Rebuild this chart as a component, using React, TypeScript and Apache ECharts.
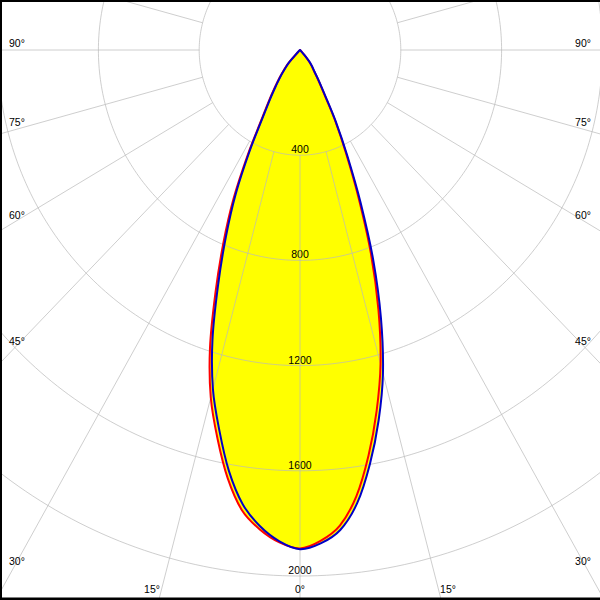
import React, { useEffect, useRef } from "react";
import * as echarts from "echarts";

// Photometric angles (degrees from nadir) and luminous intensities (cd)
const angles = [0, 2.5, 5, 7.5, 10, 12.5, 15, 17.5, 20, 22.5, 25, 27.5, 30, 32.5, 35, 37.5, 40, 42.5, 45, 47.5, 50, 60, 70, 80, 90];
// C0 – C180 plane (red)
const c0Right = [1895, 1868, 1815, 1712, 1566, 1405, 1235, 1035, 822, 606, 430, 300, 190, 134, 95, 75, 52, 20, 3, 0, 0, 0, 0, 0, 0];
const c180Left = [1895, 1874, 1830, 1765, 1653, 1513, 1368, 1188, 980, 795, 625, 448, 305, 230, 175, 135, 100, 70, 12, 0, 0, 0, 0, 0, 0];
// C90 – C270 plane (blue)
const c90Right = [1898, 1878, 1832, 1738, 1598, 1442, 1272, 1068, 850, 628, 445, 310, 198, 140, 100, 80, 58, 25, 5, 0, 0, 0, 0, 0, 0];
const c270Left = [1898, 1870, 1818, 1742, 1625, 1480, 1335, 1155, 950, 768, 603, 432, 294, 221, 167, 129, 94, 64, 8, 0, 0, 0, 0, 0, 0];

const intensityTicks = [400, 800, 1200, 1600, 2000];
const gridCircles = [400, 800, 1200, 1600, 2000, 2400, 2800];
const radialAngles = [0, 15, 30, 45, 60, 75, 90, 105, 120, 135, 150, 165, 180, 195, 210, 225, 240, 255, 270, 285, 300, 315, 330, 345];
const sideAngleLabels = ["90°", "75°", "60°", "45°", "30°"];
const bottomAngleLabels = ["15°", "0°", "15°"];

// layout
const W = 600;
const H = 600;
const CX = 300;
const CY = 50;
const PXX = 0.252; // px per cd horizontally
const PXY = 0.263; // px per cd vertically
const sideLabelY = [43, 122, 215, 341, 561];
const bottomLabelX = [152, 300, 448];
const bottomLabelY = 589;

const FONT = '10.5px "Liberation Sans", Arial, sans-serif';
const GRID_COLOR = "rgba(185,185,185,0.7)";
const SMOOTH = 0.35;

const rad = (d: number) => (d * Math.PI) / 180;
const pt = (deg: number, I: number, side: number) => [side * I * Math.sin(rad(deg)), -I * Math.cos(rad(deg))];

function planePoints(left: number[], right: number[]) {
  const pts: number[][] = [[0, 0]];
  for (let i = angles.length - 1; i >= 0; i--) if (left[i] > 0) pts.push(pt(angles[i], left[i], -1));
  for (let i = 1; i < angles.length; i++) if (right[i] > 0) pts.push(pt(angles[i], right[i], 1));
  return pts;
}

const planes = [
  { name: "C0-C180", pts: planePoints(c180Left, c0Right), color: "#ff0000" },
  { name: "C90-C270", pts: planePoints(c270Left, c90Right), color: "#0000c8" },
];

export default function App() {
  const ref = useRef<HTMLDivElement>(null);
  useEffect(() => {
    if (!ref.current) return;
    const chart = echarts.init(ref.current, undefined, { renderer: "svg" });
    const graphic: any[] = [];
    sideAngleLabels.forEach((t, i) => {
      graphic.push({ type: "text", x: 9, y: sideLabelY[i], z: 50, style: { text: t, font: FONT, fill: "#000", align: "left", verticalAlign: "middle" } });
      graphic.push({ type: "text", x: 591, y: sideLabelY[i], z: 50, style: { text: t, font: FONT, fill: "#000", align: "right", verticalAlign: "middle" } });
    });
    bottomAngleLabels.forEach((t, i) => {
      graphic.push({ type: "text", x: bottomLabelX[i], y: bottomLabelY, z: 50, style: { text: t, font: FONT, fill: "#000", align: "center", verticalAlign: "middle" } });
    });
    graphic.push({ type: "rect", z: 100, shape: { x: 0, y: 0, width: W, height: 2 }, style: { fill: "#000" } });
    graphic.push({ type: "rect", z: 100, shape: { x: 0, y: 0, width: 2, height: H }, style: { fill: "#000" } });
    graphic.push({ type: "rect", z: 100, shape: { x: 0, y: H - 2.5, width: W, height: 2.5 }, style: { fill: "#000" } });

    chart.setOption({
      animation: false,
      backgroundColor: "#ffffff",
      grid: { left: 0, right: 0, top: 0, bottom: 0 },
      xAxis: { type: "value", min: -CX / PXX, max: (W - CX) / PXX, show: false },
      yAxis: { type: "value", min: -(H - CY) / PXY, max: CY / PXY, show: false },
      graphic,
      series: [
        {
          type: "custom",
          coordinateSystem: "cartesian2d",
          silent: true,
          z: 1,
          data: planes.map(() => [0, 0]),
          renderItem: (params: any, api: any) => ({
            type: "polygon",
            shape: { points: planes[params.dataIndex].pts.map((p) => api.coord(p)), smooth: SMOOTH },
            style: { fill: "#ffff00", stroke: "none" },
          }),
        },
        {
          type: "custom",
          coordinateSystem: "cartesian2d",
          silent: true,
          z: 2,
          data: intensityTicks.map((v) => [0, -v]),
          renderItem: (params: any, api: any) => {
            const v = intensityTicks[params.dataIndex];
            const p = api.coord([0, -v]);
            return {
              type: "text",
              x: p[0],
              y: p[1] - 0.5,
              style: { text: String(v), font: FONT, fill: "#000", align: "center", verticalAlign: "bottom" },
            };
          },
        },
        {
          type: "custom",
          coordinateSystem: "cartesian2d",
          silent: true,
          z: 3,
          data: gridCircles.map((r) => [0, -r]),
          renderItem: (params: any, api: any) => {
            const r = gridCircles[params.dataIndex];
            const pts: number[][] = [];
            for (let a = 0; a <= 360; a += 1) pts.push(api.coord(pt(a, r, 1)));
            return { type: "polyline", shape: { points: pts }, style: { stroke: GRID_COLOR, lineWidth: 1, fill: "none" } };
          },
        },
        {
          type: "custom",
          coordinateSystem: "cartesian2d",
          silent: true,
          z: 3,
          data: radialAngles.map((a) => [0, a]),
          renderItem: (params: any, api: any) => {
            const a = radialAngles[params.dataIndex];
            const p1 = api.coord(pt(a, gridCircles[0], 1));
            const p2 = api.coord(pt(a, 3200, 1));
            return { type: "line", shape: { x1: p1[0], y1: p1[1], x2: p2[0], y2: p2[1] }, style: { stroke: GRID_COLOR, lineWidth: 1 } };
          },
        },
        ...planes.map((pl, k) => ({
          type: "custom",
          name: pl.name,
          coordinateSystem: "cartesian2d",
          silent: true,
          z: 4 + k,
          data: [[0, 0]],
          renderItem: (params: any, api: any) => ({
            type: "polygon",
            shape: { points: pl.pts.map((p) => api.coord(p)), smooth: SMOOTH },
            style: { stroke: pl.color, lineWidth: 2, fill: "none", lineJoin: "round" },
          }),
        })),
      ],
    });
    return () => chart.dispose();
  }, []);
  return <div ref={ref} style={{ position: "fixed", left: 0, top: 0, width: W, height: H }} />;
}
